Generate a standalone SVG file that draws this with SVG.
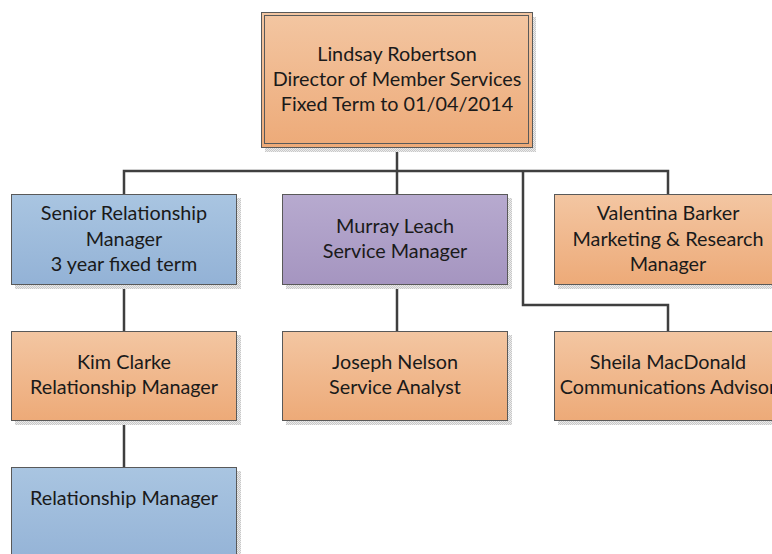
<svg xmlns="http://www.w3.org/2000/svg" width="772" height="554" viewBox="0 0 772 554">
  <defs>
    <linearGradient id="gOrange" x1="0" y1="0" x2="0" y2="1">
      <stop offset="0" stop-color="#F3C6A2"/>
      <stop offset="1" stop-color="#EDAA78"/>
    </linearGradient>
    <linearGradient id="gBlue" x1="0" y1="0" x2="0" y2="1">
      <stop offset="0" stop-color="#A9C5E1"/>
      <stop offset="1" stop-color="#93B2D6"/>
    </linearGradient>
    <linearGradient id="gPurple" x1="0" y1="0" x2="0" y2="1">
      <stop offset="0" stop-color="#B7AACF"/>
      <stop offset="1" stop-color="#A595C0"/>
    </linearGradient>
    <pattern id="checker" width="2" height="2" patternUnits="userSpaceOnUse">
      <rect width="2" height="2" fill="#EBEBEB"/>
      <rect width="1" height="1" fill="#C8C8C8"/>
      <rect x="1" y="1" width="1" height="1" fill="#C8C8C8"/>
    </pattern>
  </defs>
  <style>
    .shadow { fill: url(#checker); }
    .box { stroke: #595959; stroke-width: 1; }
    .orange { fill: url(#gOrange); }
    .blue { fill: url(#gBlue); }
    .purple { fill: url(#gPurple); }
    .label { font-family: Lato, "Open Sans", sans-serif; font-size: 19.8px; fill: #1a1a1a; text-anchor: middle; }
    .link { fill: none; stroke: #3F3F3F; stroke-width: 2.5; }
  </style>
  <rect width="772" height="554" fill="#FFFFFF"/>

  <!-- reporting lines -->
  <g id="connectors">
    <path class="link" d="M397 148 V171"/>
    <path class="link" d="M124 194 V171 H668 V194"/>
    <path class="link" d="M397 171 V194"/>
    <path class="link" d="M523 171 V305 H668 V331"/>
    <path class="link" d="M124 285 V331"/>
    <path class="link" d="M397 285 V331"/>
    <path class="link" d="M124 420 V467"/>
  </g>

  <g id="director">
    <rect class="shadow" x="265" y="17" width="271" height="135"/>
    <rect class="box orange" x="261.5" y="12.5" width="271" height="135"/>
    <rect x="264.5" y="15.5" width="264" height="128" fill="none" stroke="#595959" stroke-width="1"/>
    <text class="label" x="397" y="61">Lindsay Robertson</text>
    <text class="label" x="397" y="86">Director of Member Services</text>
    <text class="label" x="397" y="111">Fixed Term to 01/04/2014</text>
  </g>

  <g id="senior-rm">
    <rect class="shadow" x="15" y="198" width="226" height="91"/>
    <rect class="box blue" x="11.5" y="194.5" width="225" height="90"/>
    <text class="label" x="124" y="220">Senior Relationship</text>
    <text class="label" x="124" y="246">Manager</text>
    <text class="label" x="124" y="271">3 year fixed term</text>
  </g>

  <g id="murray">
    <rect class="shadow" x="286" y="198" width="226" height="91"/>
    <rect class="box purple" x="282.5" y="194.5" width="225" height="90"/>
    <text class="label" x="395" y="233">Murray Leach</text>
    <text class="label" x="395" y="258">Service Manager</text>
  </g>

  <g id="valentina">
    <rect class="shadow" x="558" y="198" width="226" height="91"/>
    <rect class="box orange" x="554.5" y="194.5" width="225" height="90"/>
    <text class="label" x="668" y="220">Valentina Barker</text>
    <text class="label" x="668" y="246">Marketing &amp; Research</text>
    <text class="label" x="668" y="271">Manager</text>
  </g>

  <g id="kim">
    <rect class="shadow" x="15" y="335" width="226" height="90"/>
    <rect class="box orange" x="11.5" y="331.5" width="225" height="89"/>
    <text class="label" x="124" y="369">Kim Clarke</text>
    <text class="label" x="124" y="394">Relationship Manager</text>
  </g>

  <g id="joseph">
    <rect class="shadow" x="286" y="335" width="226" height="90"/>
    <rect class="box orange" x="282.5" y="331.5" width="225" height="89"/>
    <text class="label" x="395" y="369">Joseph Nelson</text>
    <text class="label" x="395" y="394">Service Analyst</text>
  </g>

  <g id="sheila">
    <rect class="shadow" x="558" y="335" width="226" height="90"/>
    <rect class="box orange" x="554.5" y="331.5" width="225" height="89"/>
    <text class="label" x="668" y="369">Sheila MacDonald</text>
    <text class="label" x="668" y="394">Communications Advisor</text>
  </g>

  <g id="rm">
    <rect class="shadow" x="15" y="471" width="226" height="100"/>
    <rect class="box blue" x="11.5" y="467.5" width="225" height="100"/>
    <text class="label" x="124" y="505">Relationship Manager</text>
  </g>
</svg>
